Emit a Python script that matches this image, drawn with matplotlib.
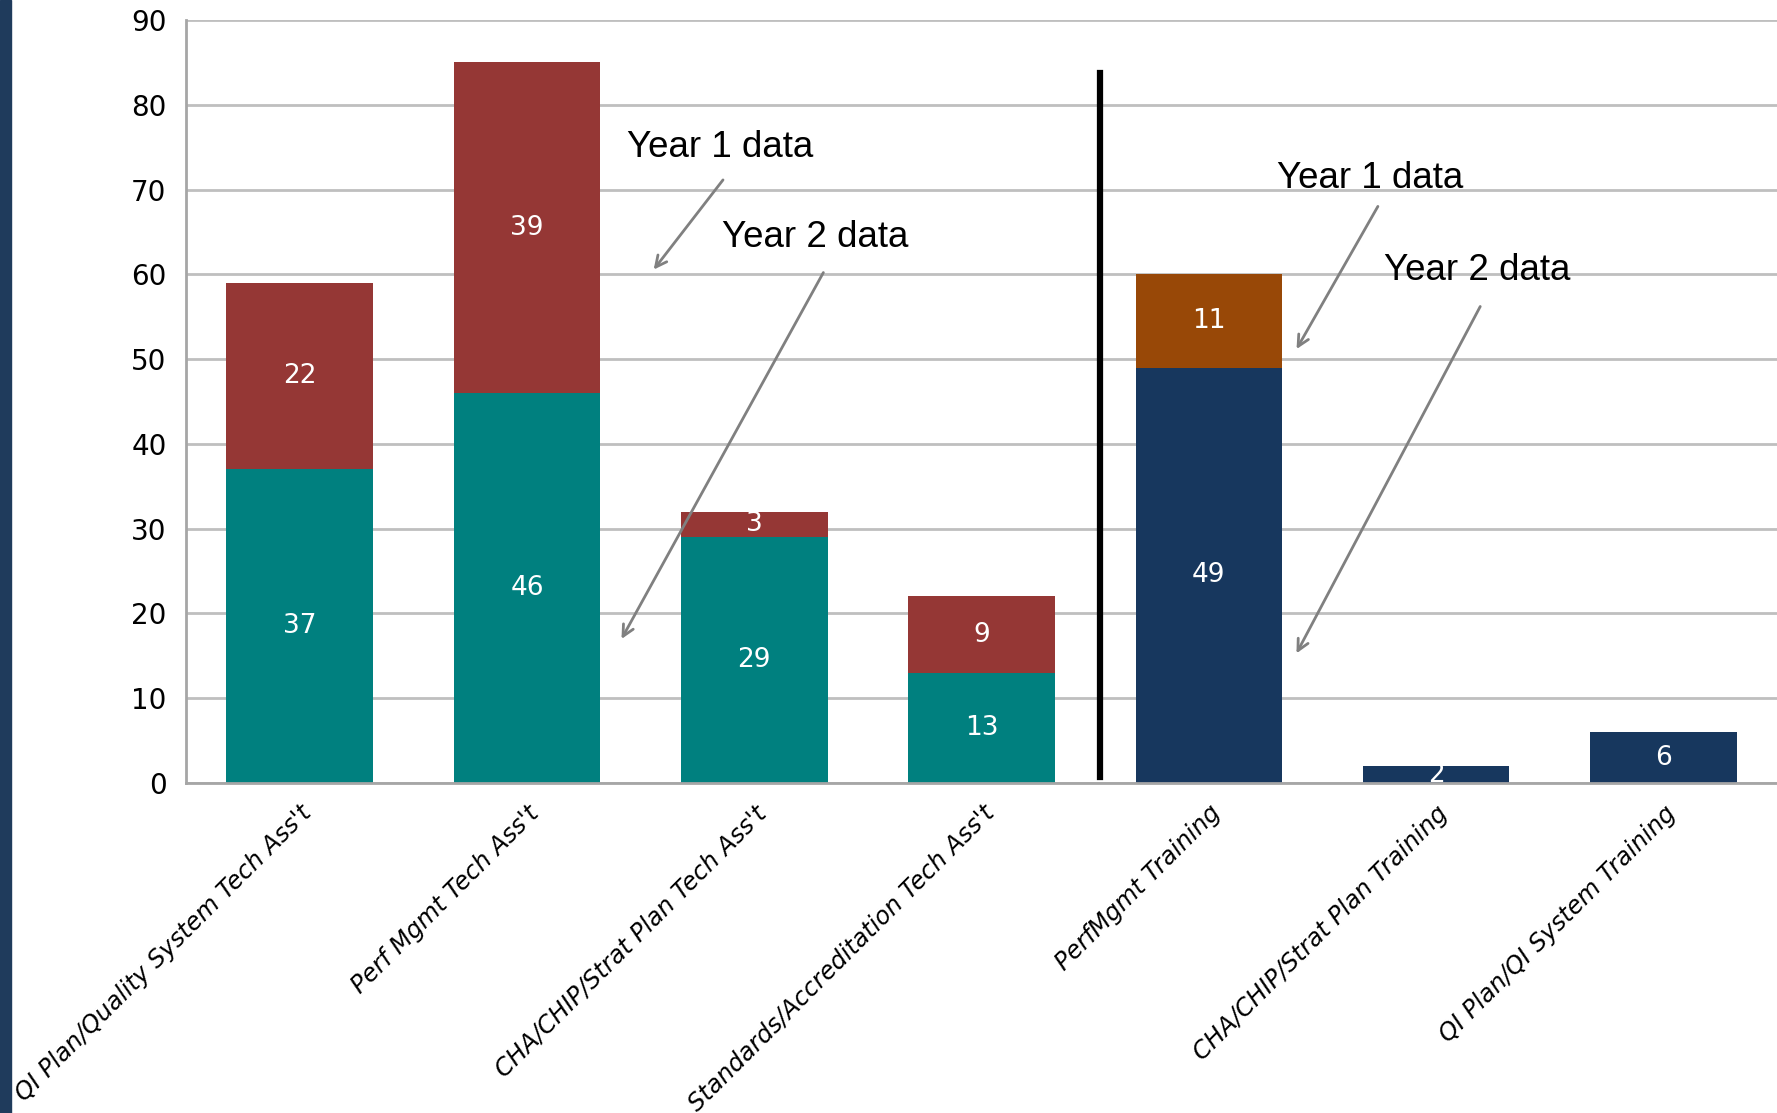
import matplotlib.pyplot as plt
from matplotlib.patches import Rectangle
import numpy as np

categories = [
    "QI Plan/Quality System Tech Ass't",
    "Perf Mgmt Tech Ass't",
    "CHA/CHIP/Strat Plan Tech Ass't",
    "Standards/Accreditation Tech Ass't",
    "PerfMgmt Training",
    "CHA/CHIP/Strat Plan Training",
    "QI Plan/QI System Training",
]
year2_vals = [37, 46, 29, 13, 49, 2, 6]
year1_vals = [22, 39, 3, 9, 11, 0, 0]

bottom_colors = ["#00807F"] * 4 + ["#17375E"] * 3
top_colors = ["#953735"] * 4 + ["#984807"] * 3

fig = plt.figure(figsize=(17.77, 11.13), dpi=100)
ax = fig.add_axes([0.1047, 0.2965, 0.8953, 0.6855])

# dark strip at the left edge of the slide
fig.patches.append(Rectangle((0, 0), 11 / 1777, 1, transform=fig.transFigure,
                             color="#1F3B5C", zorder=0))

x = np.arange(len(categories))
w = 0.645
ax.bar(x, year2_vals, w, color=bottom_colors, zorder=2)
ax.bar(x, year1_vals, w, bottom=year2_vals, color=top_colors, zorder=2)

lab = dict(color="white", fontsize=19, ha="center", va="center", zorder=3)
for i in range(len(categories)):
    ax.text(x[i], year2_vals[i] / 2, str(year2_vals[i]), **lab)
    if year1_vals[i] > 0:
        ax.text(x[i], year2_vals[i] + year1_vals[i] / 2, str(year1_vals[i]), **lab)

ax.set_xlim(-0.5, 6.5)
ax.set_ylim(0, 90)
ax.set_yticks(np.arange(0, 91, 10))
ax.yaxis.grid(True, color="#BFBFBF", linewidth=2)
ax.set_axisbelow(True)
ax.tick_params(axis="y", length=0, labelsize=20, pad=14)
ax.tick_params(axis="x", length=0, pad=13)
ax.set_xticks(x)
ax.set_xticklabels(categories, rotation=45, ha="right", rotation_mode="anchor",
                   fontsize=17.5, style="italic")
for s in ["top", "right"]:
    ax.spines[s].set_visible(False)
for s in ["left", "bottom"]:
    ax.spines[s].set_color("#A6A6A6")
    ax.spines[s].set_linewidth(2)

# divider between tech assistance and training
ax.plot([3.52, 3.52], [0.7, 83.7], color="black", linewidth=4.5, zorder=4)

# callouts
ann = dict(fontsize=26.5, family="Liberation Sans", color="black", zorder=5)
arr = dict(arrowstyle="->,head_length=0.8,head_width=0.4", color="#808080", lw=2)
ax.text(1.44, 75, "Year 1 data", va="center", **ann)
ax.annotate("", xy=(1.55, 60.3), xytext=(1.87, 71.4), arrowprops=arr)
ax.text(1.86, 64.3, "Year 2 data", va="center", **ann)
ax.annotate("", xy=(1.41, 16.7), xytext=(2.31, 60.5), arrowprops=arr)

ax.text(4.30, 71.3, "Year 1 data", va="center", **ann)
ax.annotate("", xy=(4.38, 50.9), xytext=(4.75, 68.3), arrowprops=arr)
ax.text(4.77, 60.5, "Year 2 data", va="center", **ann)
ax.annotate("", xy=(4.38, 15.0), xytext=(5.20, 56.5), arrowprops=arr)

fig.savefig("out.png", dpi=100)
